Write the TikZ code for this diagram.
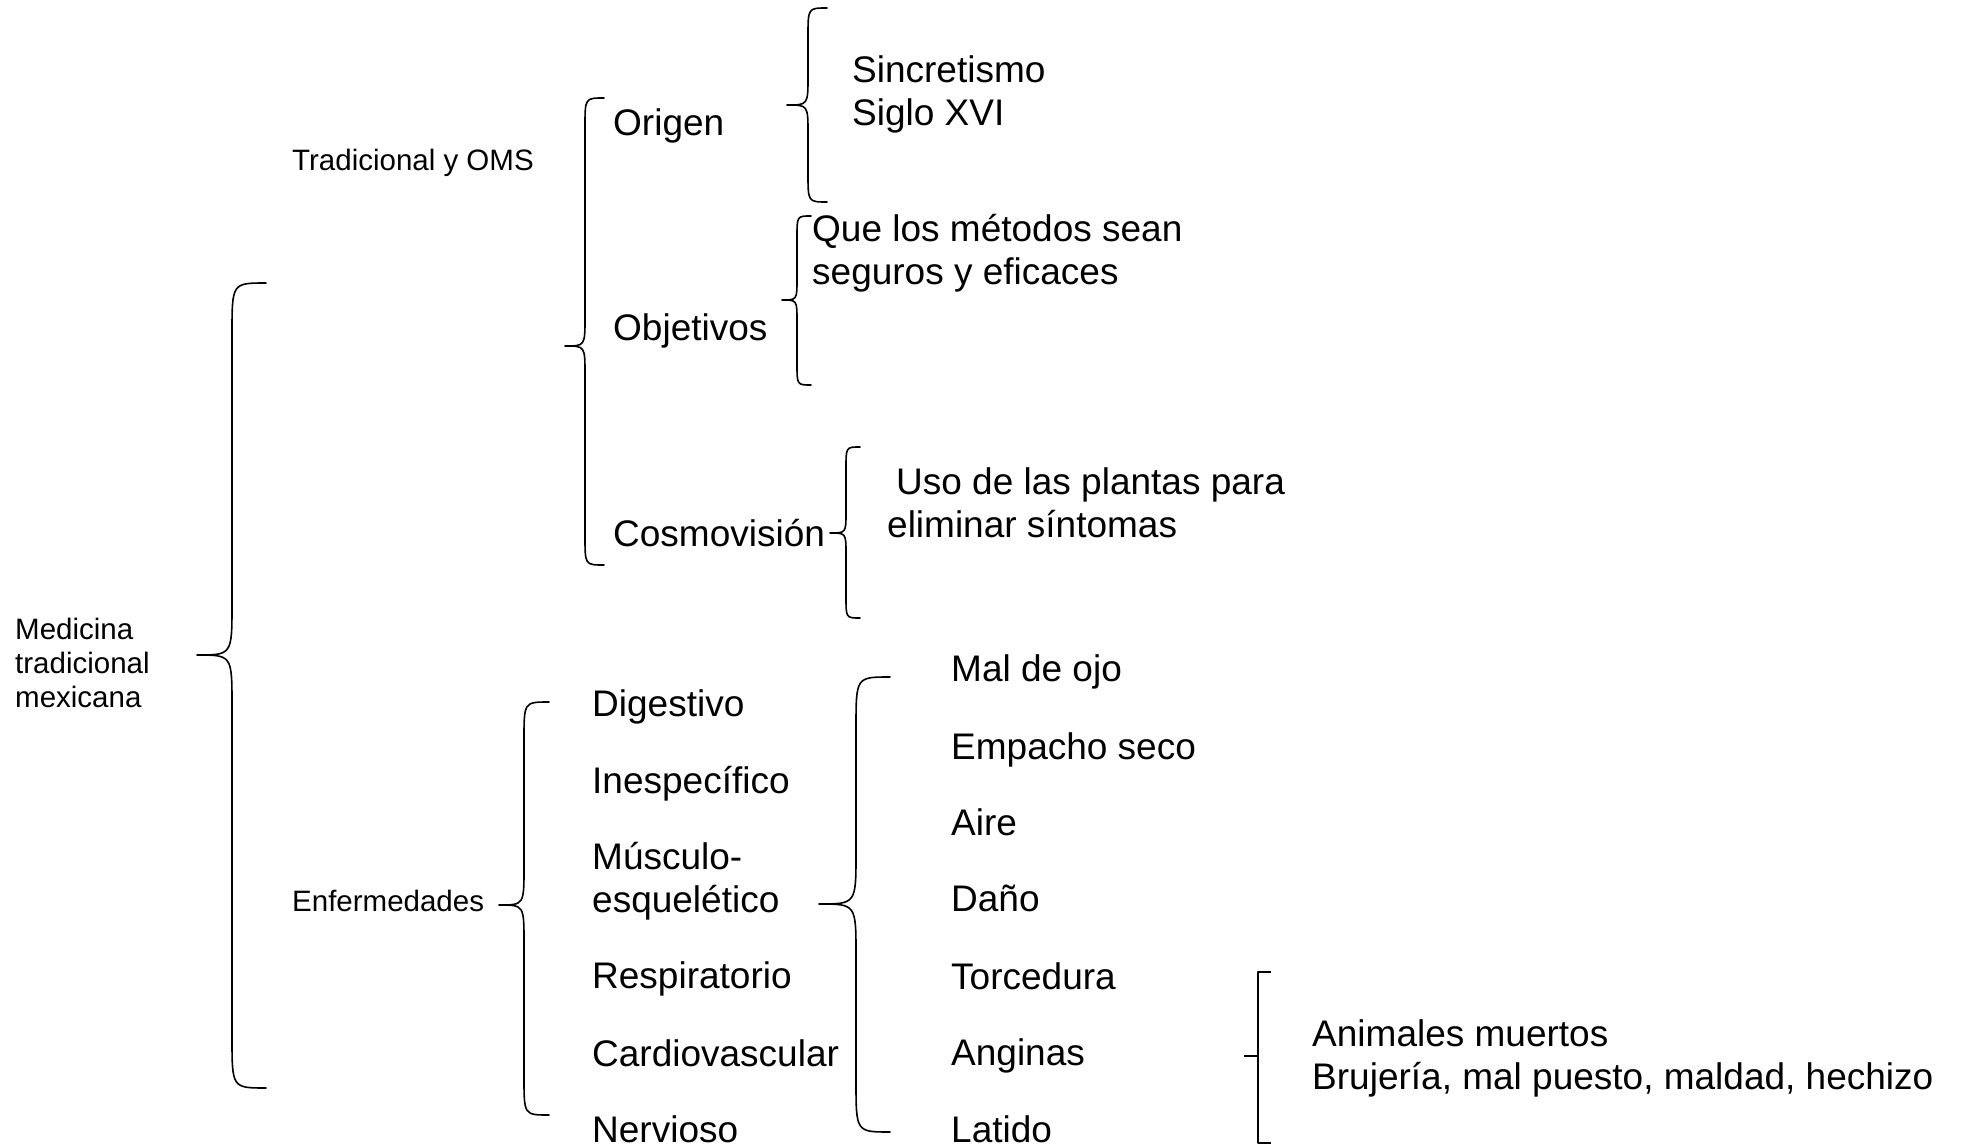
\documentclass[tikz,border=0pt]{standalone}
\usepackage{fontspec}
\setmainfont{Liberation Sans}
\newcommand\cbrace[6]{% tip-x, line-x, end-x, top-y, tip-y, bottom-y
  \pgfmathsetmacro\rr{1.5*(#3-#2)}%
  \draw[bracestyle] (#3,#4) .. controls (#2,#4) .. ({#2},{#4+\rr}) -- ({#2},{#5-\rr})
    .. controls (#2,#5) .. (#1,#5) .. controls (#2,#5) .. ({#2},{#5+\rr})
    -- ({#2},{#6-\rr}) .. controls (#2,#6) .. (#3,#6);}
\begin{document}
\begin{tikzpicture}[x=1pt,y=-1pt,
  big/.style={font=\fontsize{37}{43}\selectfont, inner sep=0pt, anchor=west, align=left},
  small/.style={font=\fontsize{29.5}{34}\selectfont, inner sep=0pt, anchor=west, align=left},
  bracestyle/.style={line width=1.6pt, line join=round, line cap=round}]
\useasboundingbox (0,0) rectangle (1965,1147);

% texts
\node[small] (med) at (15,663) {Medicina\\tradicional\\mexicana};
\node[small] (trad) at (292,163) {Tradicional y OMS};
\node[small] (enf) at (292,901) {Enfermedades};

\node[big] (origen) at (613,126) {Origen};
\node[big] (obj) at (613,331) {Objetivos};
\node[big] (cosmo) at (613,533) {Cosmovisión};

\node[big] (sinc) at (852,94) {Sincretismo\\Siglo XVI};
\node[big] (que) at (812,253) {Que los métodos sean\\seguros y eficaces};
\node[big] (uso) at (887,503) {\hspace{9pt}Uso de las plantas para\\eliminar síntomas};

\node[big] (dig) at (592,707) {Digestivo};
\node[big] (ines) at (592,784) {Inespecífico};
\node[big] (musc) at (592,881) {Músculo-\\esquelético};
\node[big] (resp) at (592,979) {Respiratorio};
\node[big] (card) at (592,1053) {Cardiovascular};
\node[big] (nerv) at (592,1129) {Nervioso};

\node[big] (mal) at (951,672) {Mal de ojo};
\node[big] (emp) at (951,750) {Empacho seco};
\node[big] (aire) at (951,822) {Aire};
\node[big] (dano) at (951,898) {Daño};
\node[big] (torc) at (951,976) {Torcedura};
\node[big] (ang) at (951,1056) {Anginas};
\node[big] (lat) at (951,1129) {Latido};

\node[big] (anim) at (1312,1058) {Animales muertos\\Brujería, mal puesto, maldad, hechizo};

% braces
\cbrace{197}{232}{266}{283}{655}{1088}
\cbrace{565}{585}{604}{98}{346}{565}
\cbrace{787}{808}{827}{8}{105}{202}
\cbrace{782}{797}{811}{216}{300}{385}
\cbrace{830}{846}{860}{447}{533}{618}
\cbrace{499}{524}{549}{702}{905}{1115}
\cbrace{819}{856}{890}{677}{904}{1132}

% square bracket
\draw[bracestyle, line cap=butt] (1271,972) -- (1258,972) -- (1258,1143) -- (1271,1143);
\draw[bracestyle, line cap=butt] (1244,1056) -- (1258,1056);
\end{tikzpicture}
\end{document}
